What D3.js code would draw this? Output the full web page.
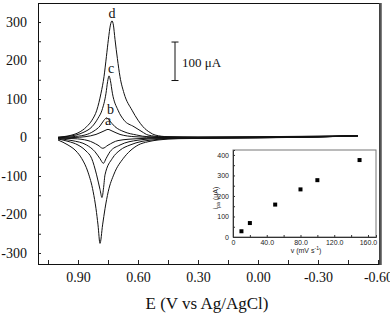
<!DOCTYPE html>
<html>
<head>
<meta charset="utf-8">
<script src="https://cdn.jsdelivr.net/npm/d3@7"></script>
<style>
  body { margin: 0; background: #fff; }
  svg { display: block; }
</style>
</head>
<body>
<div id="chart"></div>
<script>
// cyclic voltammograms at 4 scan rates + inset of peak current vs scan rate

var width = 390,
    height = 313;

// each curve is [E (V), i (uA)], swept from +1.0 to -0.5 V
var curveA_up = [[1.00, -1], [0.92, 0], [0.865, 2], [0.81, 8], [0.77, 17], [0.75, 21], [0.73, 17], [0.69, 8], [0.615, 2], [0.50, 0], [0.30, 0], [0.00, 0.5], [-0.30, 2], [-0.50, 4]];
var curveB_up = [[1.00, -0.5], [0.93, 2], [0.865, 6.5], [0.82, 17], [0.79, 30], [0.77, 45], [0.757, 51], [0.745, 45], [0.715, 28], [0.67, 15], [0.607, 6.5], [0.55, 2], [0.30, 0.5], [0.00, 1], [-0.30, 2.5], [-0.50, 4]];
var curveC_up = [[1.00, 0], [0.95, 3], [0.91, 6.5], [0.87, 14], [0.83, 28], [0.80, 50], [0.78, 71], [0.76, 115], [0.752, 145], [0.745, 160], [0.738, 148], [0.728, 115], [0.70, 71], [0.67, 45], [0.62, 28], [0.58, 15], [0.55, 6.5], [0.48, 2], [0.30, 1], [0.00, 1.5], [-0.30, 3], [-0.50, 4.5]];
var curveD_up = [[1.00, 1], [0.95, 4], [0.93, 6.5], [0.90, 12], [0.857, 28], [0.83, 45], [0.806, 71], [0.785, 115], [0.77, 158], [0.758, 210], [0.748, 255], [0.738, 292], [0.73, 303], [0.723, 292], [0.715, 255], [0.703, 205], [0.69, 158], [0.67, 115], [0.63, 71], [0.60, 45], [0.575, 28], [0.54, 13], [0.515, 6.5], [0.45, 2], [0.30, 1], [0.00, 2], [-0.30, 3.5], [-0.50, 5]];

var curveA_down = [[1.00, -2], [0.92, -3], [0.85, -8], [0.80, -20], [0.776, -28], [0.75, -20], [0.70, -8], [0.60, -3], [0.50, -1.5], [0.00, 0], [-0.30, 1.5], [-0.50, 4]];
var curveB_down = [[1.00, -3], [0.93, -8], [0.857, -19.5], [0.815, -37], [0.79, -55], [0.773, -67], [0.76, -55], [0.74, -37], [0.69, -19.5], [0.60, -7], [0.50, -3], [0.00, -0.5], [-0.30, 1.5], [-0.50, 4.5]];
var curveC_down = [[1.00, -4], [0.95, -10], [0.90, -19.5], [0.86, -35], [0.832, -54], [0.807, -97], [0.79, -135], [0.78, -156], [0.772, -130], [0.765, -97], [0.728, -54], [0.69, -33], [0.64, -19.5], [0.58, -10], [0.53, -6.5], [0.45, -3], [0.00, -0.5], [-0.30, 1.5], [-0.50, 4.5]];
var curveD_down = [[1.00, -6.5], [0.95, -19.5], [0.91, -35], [0.882, -54], [0.85, -90], [0.824, -141], [0.81, -185], [0.80, -227], [0.79, -275], [0.777, -227], [0.765, -185], [0.749, -141], [0.72, -95], [0.673, -54], [0.64, -35], [0.599, -19.5], [0.55, -11], [0.50, -6.5], [0.40, -3], [0.00, -1], [-0.30, 1.5], [-0.50, 4.5]];

// curve letters: [label, E, i]
var curveLabels = [["a", 0.75, 33], ["b", 0.738, 61], ["c", 0.735, 168], ["d", 0.73, 311]];

// axis ticks
var yMajorTicks = [300, 200, 100, 0, -100, -200, -300];
var yMinorTicks = [250, 150, 50, -50, -150, -250];
var xMajorTicks = [0.90, 0.60, 0.30, 0.00, -0.30, -0.60];
var xMajorLabels = ["0.90", "0.60", "0.30", "0.00", "-0.30", "-0.60"];
var xMinorTicks = [1.05, 0.75, 0.45, 0.15, -0.15, -0.45];

// inset: anodic peak current vs scan rate
var scanRates = [10, 20, 50, 80, 100, 150];
var peakCurrents = [28, 68, 158, 232, 277, 375];
var insetXTicks = [0, 20, 40, 60, 80, 100, 120, 140, 160];
var insetXLabels = {0: "0", 40: "40.0", 80: "80.0", 120: "120.0", 160: "160.0"};
var insetYTicks = [0, 50, 100, 150, 200, 250, 300, 350, 400];

var serif = "'Liberation Serif', 'Times New Roman', serif",
    sans = "'Liberation Sans', Arial, sans-serif";

var svg = d3.select("#chart").append("svg")
    .attr("width", width)
    .attr("height", height);

svg.append("rect").attr("width", width).attr("height", height).attr("fill", "#fff");

// main scales (E axis runs from positive to negative)
var x = d3.scaleLinear().domain([1.10, -0.61]).range([38, 380]);
var y = d3.scaleLinear().domain([-328.6, 349.4]).range([264, 3]);

var line = d3.line()
    .x(function(d) { return x(d[0]); })
    .y(function(d) { return y(d[1]); })
    .curve(d3.curveMonotoneX);

var curves = [curveA_up, curveB_up, curveC_up, curveD_up, curveA_down, curveB_down, curveC_down, curveD_down];

svg.append("g").selectAll("path")
    .data(curves)
  .enter().append("path")
    .attr("d", line)
    .attr("fill", "none")
    .attr("stroke", "#111")
    .attr("stroke-width", 1);

// y axis, ticks pointing inward
var yAxis = svg.append("g")
    .attr("transform", "translate(" + x.range()[0] + ",0)")
    .call(d3.axisLeft(y).tickValues(yMajorTicks).tickSize(-3).tickPadding(11).tickFormat(function(d) { return String(d); }));
svg.append("g")
    .attr("transform", "translate(" + x.range()[0] + ",0)")
    .call(d3.axisLeft(y).tickValues(yMinorTicks).tickSize(-3).tickFormat(""));

// x axis
svg.append("g")
    .attr("transform", "translate(0," + y.range()[0] + ")")
    .call(d3.axisBottom(x).tickValues(xMajorTicks).tickSize(-4).tickPadding(8)
      .tickFormat(function(d, i) { return xMajorLabels[i]; }));
svg.append("g")
    .attr("transform", "translate(0," + y.range()[0] + ")")
    .call(d3.axisBottom(x).tickValues(xMinorTicks).tickSize(-4).tickFormat(""));

svg.selectAll(".domain").remove();
svg.selectAll(".tick line").attr("stroke", "#222");
svg.selectAll(".tick text")
    .attr("font-family", serif)
    .attr("font-size", 14)
    .attr("fill", "#111");

// frame
svg.append("rect")
    .attr("x", x.range()[0] + 0.5)
    .attr("y", y.range()[1] + 0.5)
    .attr("width", x.range()[1] - x.range()[0] - 1)
    .attr("height", y.range()[0] - y.range()[1])
    .attr("fill", "none")
    .attr("stroke", "#111");
svg.append("line")
    .attr("x1", x.range()[1] + 0.5).attr("x2", x.range()[1] + 0.5)
    .attr("y1", y.range()[1]).attr("y2", y.range()[0] + 1)
    .attr("stroke", "#555")
    .attr("stroke-width", 2.5);

// axis title
svg.append("text")
    .attr("x", 207)
    .attr("y", 309)
    .attr("text-anchor", "middle")
    .attr("font-family", serif)
    .attr("font-size", 17)
    .attr("fill", "#111")
    .text("E (V vs Ag/AgCl)");

// curve letters
svg.append("g").selectAll("text")
    .data(curveLabels)
  .enter().append("text")
    .attr("x", function(d) { return x(d[1]); })
    .attr("y", function(d) { return y(d[2]); })
    .attr("text-anchor", "middle")
    .attr("font-family", serif)
    .attr("font-size", 14)
    .attr("fill", "#111")
    .text(function(d) { return d[0]; });

// 100 uA scale bar
var barE = 0.415, barTop = 248, barBottom = 148;
var bar = svg.append("g").attr("stroke", "#111").attr("stroke-width", 1);
bar.append("line").attr("x1", x(barE)).attr("x2", x(barE)).attr("y1", y(barTop)).attr("y2", y(barBottom));
bar.append("line").attr("x1", x(barE) - 3.5).attr("x2", x(barE) + 3.5).attr("y1", y(barTop)).attr("y2", y(barTop));
bar.append("line").attr("x1", x(barE) - 3.5).attr("x2", x(barE) + 3.5).attr("y1", y(barBottom)).attr("y2", y(barBottom));
svg.append("text")
    .attr("x", x(barE) + 7)
    .attr("y", 67)
    .attr("font-family", serif)
    .attr("font-size", 13)
    .attr("fill", "#111")
    .text("100 μA");

// inset plot
var xi = d3.scaleLinear().domain([0, 169.5]).range([233, 376]);
var yi = d3.scaleLinear().domain([0, 424]).range([237, 150]);

var inset = svg.append("g");

inset.append("rect")
    .attr("x", xi.range()[0])
    .attr("y", yi.range()[1])
    .attr("width", xi.range()[1] - xi.range()[0])
    .attr("height", yi.range()[0] - yi.range()[1])
    .attr("fill", "#fff")
    .attr("stroke", "#777");

inset.append("g")
    .attr("transform", "translate(0," + yi.range()[0] + ")")
    .call(d3.axisBottom(xi).tickValues(insetXTicks).tickSize(-2).tickPadding(3)
      .tickFormat(function(d) { return insetXLabels[d] || ""; }));
inset.append("g")
    .attr("transform", "translate(" + xi.range()[0] + ",0)")
    .call(d3.axisLeft(yi).tickValues(insetYTicks).tickSize(-2).tickPadding(4)
      .tickFormat(function(d) { return d % 100 === 0 ? String(d) : ""; }));

inset.selectAll(".domain").attr("stroke", "#333");
inset.selectAll(".tick line").attr("stroke", "#333");
inset.selectAll(".tick text")
    .attr("font-family", sans)
    .attr("font-size", 7)
    .attr("fill", "#222");

inset.selectAll("rect.pt")
    .data(scanRates)
  .enter().append("rect")
    .attr("class", "pt")
    .attr("x", function(d) { return xi(d) - 2; })
    .attr("y", function(d, i) { return yi(peakCurrents[i]) - 2; })
    .attr("width", 4)
    .attr("height", 4)
    .attr("fill", "#000");

var xl = inset.append("text")
    .attr("x", 306)
    .attr("y", 253)
    .attr("text-anchor", "middle")
    .attr("font-family", sans)
    .attr("font-size", 7)
    .attr("fill", "#222");
xl.append("tspan").text("v (mV s");
xl.append("tspan").attr("dy", -3).attr("font-size", 5).text("-1");
xl.append("tspan").attr("dy", 3).text(")");

var yl = inset.append("text")
    .attr("transform", "translate(218,198) rotate(-90)")
    .attr("text-anchor", "middle")
    .attr("font-family", sans)
    .attr("font-size", 7)
    .attr("fill", "#222");
yl.append("tspan").text("i");
yl.append("tspan").attr("dy", 2).attr("font-size", 5).text("pa");
yl.append("tspan").attr("dy", -2).text(" (μA)");
</script>
</body>
</html>
